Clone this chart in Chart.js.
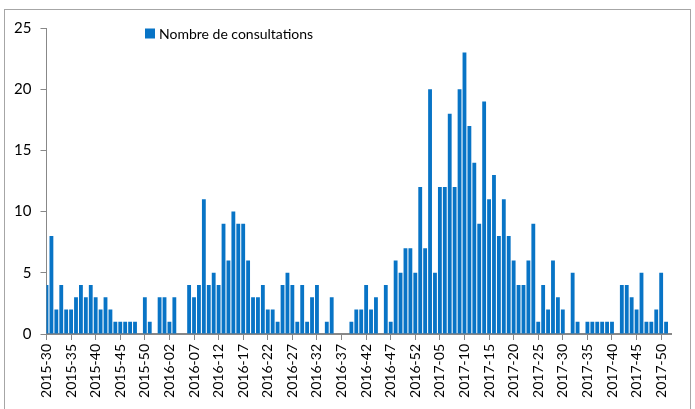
<!DOCTYPE html>
<html>
<head>
<meta charset="utf-8">
<script src="https://cdn.jsdelivr.net/npm/chart.js@4"></script>
<style>
  html, body { margin: 0; padding: 0; background: #fff; }
  #wrap { position: relative; width: 695px; height: 409px; }
</style>
</head>
<body>
<div id="wrap"><canvas id="consultChart" width="695" height="409"></canvas></div>
<script>
// weekly counts, 2015-30 .. 2015-53
const firstWeek2015 = 30;
const counts2015 = [4, 8, 2, 4, 2, 2, 3, 4, 3, 4, 3, 2, 3, 2, 1, 1, 1, 1, 1, 0, 3, 1, 0, 3];
// 2016-01 .. 2016-52
const counts2016 = [3, 1, 3, 0, 0, 4, 3, 4, 11, 4, 5, 4, 9, 6, 10, 9, 9, 6, 3, 3,
  4, 2, 2, 1, 4, 5, 4, 1, 4, 1, 3, 4, 0, 1, 3, 0, 0, 0, 1, 2,
  2, 4, 2, 3, 0, 4, 1, 6, 5, 7, 7, 5];
// 2017-01 .. 2017-52 (last week empty)
const counts2017 = [12, 7, 20, 5, 12, 12, 18, 12, 20, 23, 17, 14, 9, 19, 11, 13, 8, 11, 8, 6,
  4, 4, 6, 9, 1, 4, 2, 6, 3, 2, 0, 5, 1, 0, 1, 1, 1, 1, 1, 1,
  0, 4, 4, 3, 2, 5, 1, 1, 2, 5, 1, null];

const pad = n => String(n).padStart(2, '0');
const labels = [
  ...counts2015.map((_, i) => '2015-' + pad(firstWeek2015 + i)),
  ...counts2016.map((_, i) => '2016-' + pad(i + 1)),
  ...counts2017.map((_, i) => '2017-' + pad(i + 1))
];
const consultations = [...counts2015, ...counts2016, ...counts2017];

const barBlue = '#0874c6';
const axisGrey = '#888888';
const fontFam = 'Lato, "Noto Sans", sans-serif';

const frame = {
  id: 'frame',
  beforeDraw(chart) {
    const c = chart.ctx;
    c.save();
    c.strokeStyle = '#a6a6a6';
    c.lineWidth = 1;
    c.strokeRect(4.5, 9.5, 686, 450);
    c.restore();
  }
};

const legendBox = {
  id: 'legendBox',
  afterDraw(chart) {
    const c = chart.ctx;
    const ds = chart.data.datasets[0];
    c.save();
    c.fillStyle = ds.backgroundColor;
    c.fillRect(145, 28.5, 10, 10);
    c.fillStyle = '#000';
    c.font = '14px ' + fontFam;
    c.textBaseline = 'middle';
    c.fillText(ds.label, 159, 34);
    c.restore();
  }
};

new Chart(document.getElementById('consultChart'), {
  type: 'bar',
  data: {
    labels,
    datasets: [{
      label: 'Nombre de consultations',
      data: consultations,
      backgroundColor: barBlue,
      borderWidth: 0,
      barPercentage: 0.78,
      categoryPercentage: 1,
      clip: 0
    }]
  },
  options: {
    responsive: false,
    animation: false,
    layout: { padding: { left: 0, right: 24, top: 28, bottom: 0 } },
    plugins: {
      legend: { display: false },
      tooltip: { enabled: false }
    },
    scales: {
      x: {
        offset: false,
        afterFit: s => { s.height = 75; },
        afterBuildTicks: s => { s.ticks = s.ticks.filter((t, i) => i % 5 === 0); },
        grid: { offset: false, drawOnChartArea: false, drawTicks: true, tickLength: 6, color: axisGrey },
        border: { color: axisGrey, width: 2 },
        ticks: {
          autoSkip: false, maxRotation: 90, minRotation: 90, padding: 4,
          color: '#000', font: { family: fontFam, size: 14 }
        }
      },
      y: {
        min: 0, max: 25,
        afterFit: s => { s.width = 46.5; },
        grid: { drawOnChartArea: false, drawTicks: true, tickLength: 6, color: axisGrey },
        border: { color: axisGrey, width: 1 },
        ticks: { stepSize: 5, padding: 9, color: '#000', font: { family: fontFam, size: 15 } }
      }
    }
  },
  plugins: [frame, legendBox]
});
</script>
</body>
</html>
